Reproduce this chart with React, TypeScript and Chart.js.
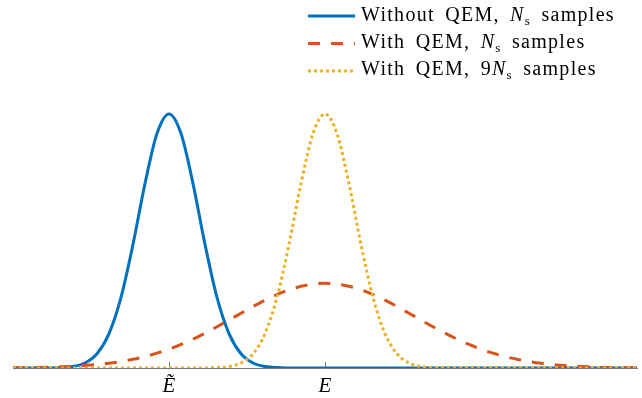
import React, { useEffect, useRef } from "react";
import { Chart, registerables } from "chart.js";

Chart.register(...registerables);

// Energy axis positions (units of the narrow spread), E at 0, Ẽ at -5.2
const xGrid = [
  -10.4, -10.0, -9.6, -9.2, -8.8, -8.4, -8.0, -7.6, -7.2, -6.8, -6.4, -6.0, -5.6,
  -5.2, -4.8, -4.4, -4.0, -3.6, -3.2, -2.8, -2.4, -2.0, -1.6, -1.2, -0.8, -0.4,
  0.0, 0.4, 0.8, 1.2, 1.6, 2.0, 2.4, 2.8, 3.2, 3.6, 4.0, 4.4, 4.8, 5.2, 5.6, 6.0,
  6.4, 6.8, 7.2, 7.6, 8.0, 8.4, 8.8, 9.2, 9.6, 10.0, 10.4,
];

const withoutQem = [
  0, 0, 0.0001, 0.0003, 0.0015, 0.006, 0.0198, 0.0561, 0.1353, 0.278, 0.4868, 0.7261, 0.9231,
  1, 0.9231, 0.7261, 0.4868, 0.278, 0.1353, 0.0561, 0.0198, 0.006, 0.0015, 0.0003, 0.0001, 0,
  0, 0, 0, 0, 0, 0, 0, 0, 0, 0, 0, 0, 0, 0, 0, 0,
  0, 0, 0, 0, 0, 0, 0, 0, 0, 0, 0,
];

const withQem = [
  0.0008, 0.0013, 0.002, 0.003, 0.0045, 0.0066, 0.0095, 0.0135, 0.0187, 0.0255, 0.0342, 0.0451, 0.0584,
  0.0742, 0.0927, 0.1137, 0.137, 0.1623, 0.1887, 0.2156, 0.242, 0.2669, 0.2891, 0.3077, 0.3217, 0.3304,
  0.3333, 0.3304, 0.3217, 0.3077, 0.2891, 0.2669, 0.242, 0.2156, 0.1887, 0.1623, 0.137, 0.1137, 0.0927, 0.0742, 0.0584, 0.0451,
  0.0342, 0.0255, 0.0187, 0.0135, 0.0095, 0.0066, 0.0045, 0.003, 0.002, 0.0013, 0.0008,
];

const withQem9 = [
  0, 0, 0, 0, 0, 0, 0, 0, 0, 0, 0, 0, 0,
  0, 0, 0.0001, 0.0003, 0.0015, 0.006, 0.0198, 0.0561, 0.1353, 0.278, 0.4868, 0.7261, 0.9231,
  1, 0.9231, 0.7261, 0.4868, 0.278, 0.1353, 0.0561, 0.0198, 0.006, 0.0015, 0.0003, 0.0001, 0, 0, 0, 0,
  0, 0, 0, 0, 0, 0, 0, 0, 0, 0, 0,
];

const tickValues = [-5.2, 0];
const tickLabels = ["Ẽ", "E"];

const BLUE = "#0072BD";
const ORANGE = "#D95319";
const YELLOW = "#EDB120";
const AXIS = "#7a7a7a";

const innerTicks = {
  id: "innerTicks",
  beforeDatasetsDraw(chart: any) {
    const sx = chart.scales.x;
    const ctx = chart.ctx;
    const yb = chart.chartArea.bottom;
    ctx.save();
    ctx.strokeStyle = AXIS;
    ctx.lineWidth = 1;
    tickValues.forEach((v) => {
      const px = Math.round(sx.getPixelForValue(v)) + 0.5;
      ctx.beginPath();
      ctx.moveTo(px, yb);
      ctx.lineTo(px, yb - 6);
      ctx.stroke();
    });
    ctx.restore();
  },
};

export default function App() {
  const ref = useRef<HTMLCanvasElement>(null);

  useEffect(() => {
    if (!ref.current) return;
    const mk = (vals: number[]) => xGrid.map((x, i) => ({ x, y: vals[i] }));
    const chart = new Chart(ref.current, {
      type: "line",
      data: {
        datasets: [
          {
            label: "Without QEM, Ns samples",
            data: mk(withoutQem),
            borderColor: BLUE,
            borderWidth: 3,
            cubicInterpolationMode: "monotone",
            order: 2,
          },
          {
            label: "With QEM, Ns samples",
            data: mk(withQem),
            borderColor: ORANGE,
            borderWidth: 3,
            borderDash: [12, 11],
            cubicInterpolationMode: "monotone",
            order: 1,
          },
          {
            label: "With QEM, 9Ns samples",
            data: mk(withQem9),
            borderColor: YELLOW,
            borderWidth: 3,
            borderDash: [3, 3],
            cubicInterpolationMode: "monotone",
            order: 0,
          },
        ],
      },
      options: {
        animation: false,
        responsive: false,
        layout: { padding: { left: 13, right: 5, top: 0, bottom: 0 } },
        elements: { point: { radius: 0 } },
        plugins: { legend: { display: false }, tooltip: { enabled: false } },
        scales: {
          x: {
            type: "linear",
            min: -10.4,
            max: 10.4,
            afterBuildTicks: (s: any) => {
              s.ticks = tickValues.map((v) => ({ value: v }));
            },
            afterFit: (s: any) => {
              s.height = 30;
            },
            grid: { display: false, drawTicks: false },
            border: { display: true, color: AXIS, width: 1 },
            ticks: {
              autoSkip: false,
              maxRotation: 0,
              padding: 6,
              color: "#000",
              font: { family: "'Liberation Serif', serif", size: 21, style: "italic" },
              callback: (v: any) => {
                const i = tickValues.findIndex((t) => Math.abs(t - Number(v)) < 1e-6);
                return i >= 0 ? tickLabels[i] : "";
              },
            },
          },
          y: { display: false, min: 0, max: 1.449 },
        },
      },
      plugins: [innerTicks],
    });
    return () => chart.destroy();
  }, []);

  const font = "'Liberation Serif', serif";
  const textStyle = { letterSpacing: "1.3px", wordSpacing: "4px" } as any;
  return (
    <div style={{ position: "fixed", left: 0, top: 0, width: 642, height: 398, background: "#fff" }}>
      <canvas ref={ref} width={642} height={398} style={{ position: "absolute", left: 0, top: 0 }} />
      <svg width={642} height={398} style={{ position: "absolute", left: 0, top: 0, pointerEvents: "none" }}>
        <line x1={308} x2={355} y1={16} y2={16} stroke={BLUE} strokeWidth={3} />
        <line x1={308} x2={355} y1={43.5} y2={43.5} stroke={ORANGE} strokeWidth={3} strokeDasharray="12 11" />
        <line x1={308} x2={355} y1={71} y2={71} stroke={YELLOW} strokeWidth={3} strokeDasharray="3 3" />
        <text x={361} y={21} fontFamily={font} fontSize={20} fill="#000" style={textStyle}>
          {"Without QEM, "}
          <tspan fontStyle="italic">N</tspan>
          <tspan fontSize={13} dy={4}>s</tspan>
          <tspan dy={-4}>{" samples"}</tspan>
        </text>
        <text x={361} y={48} fontFamily={font} fontSize={20} fill="#000" style={textStyle}>
          {"With QEM, "}
          <tspan fontStyle="italic">N</tspan>
          <tspan fontSize={13} dy={4}>s</tspan>
          <tspan dy={-4}>{" samples"}</tspan>
        </text>
        <text x={361} y={75} fontFamily={font} fontSize={20} fill="#000" style={textStyle}>
          {"With QEM, 9"}
          <tspan fontStyle="italic">N</tspan>
          <tspan fontSize={13} dy={4}>s</tspan>
          <tspan dy={-4}>{" samples"}</tspan>
        </text>
      </svg>
    </div>
  );
}
